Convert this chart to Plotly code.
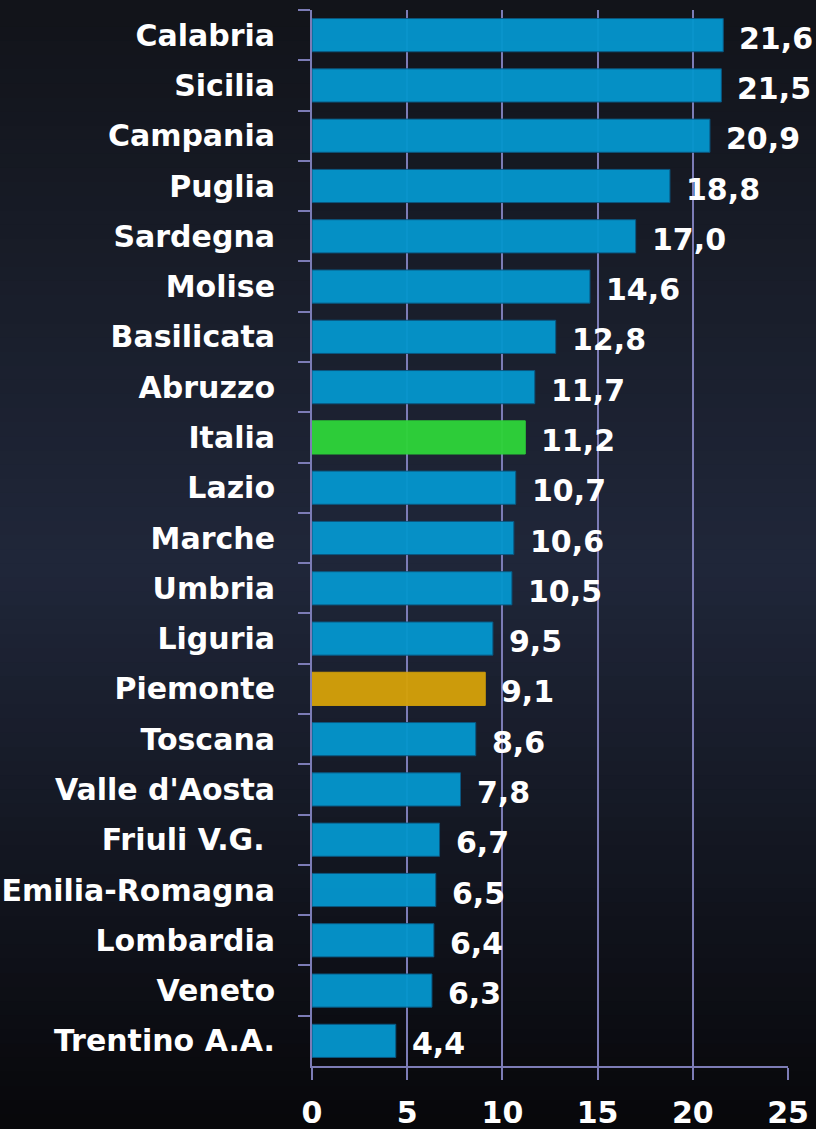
import plotly.graph_objs as go

# Regioni ordinate dal valore più alto al più basso
regioni = ["Calabria", "Sicilia", "Campania", "Puglia", "Sardegna", "Molise",
           "Basilicata", "Abruzzo", "Italia", "Lazio", "Marche", "Umbria",
           "Liguria", "Piemonte", "Toscana", "Valle d'Aosta", "Friuli V.G.\u00a0",
           "Emilia-Romagna", "Lombardia", "Veneto", "Trentino A.A."]
valori = [21.6, 21.5, 20.9, 18.8, 17.0, 14.6, 12.8, 11.7, 11.2, 10.7, 10.6,
          10.5, 9.5, 9.1, 8.6, 7.8, 6.7, 6.5, 6.4, 6.3, 4.4]
x_ticks = [0, 5, 10, 15, 20, 25]

BLU = '#0595cc'
colori = {"Italia": '#2ed33a', "Piemonte": '#d4a10a'}
GRIGLIA = '#7c7cb6'
FONT = dict(family='DejaVu Sans', size=30, color='white', weight='bold')


def sfondo_gradiente(n=80):
    # strisce orizzontali per simulare lo sfondo sfumato
    top, mid, bot = (18, 20, 26), (32, 39, 58), (8, 8, 11)
    shapes = []
    for i in range(n):
        t = i / (n - 1)
        if t < 0.5:
            a, b, f = top, mid, t / 0.5
        else:
            a, b, f = mid, bot, (t - 0.5) / 0.5
        c = tuple(int(a[k] + (b[k] - a[k]) * f) for k in range(3))
        shapes.append(dict(
            type='rect', xref='paper', yref='paper', layer='below',
            x0=-1, x1=2, y0=1.01 - i * (1.07 / n) + 0.001,
            y1=1.01 - (i + 1) * (1.07 / n) - 0.001,
            fillcolor='rgb(%d,%d,%d)' % c, line=dict(width=0)))
    return shapes


def plot_bar_chart():
    bar_colors = [colori.get(r, BLU) for r in regioni]
    line_colors = ['#0a5a85' if r not in colori else c
                   for r, c in zip(regioni, bar_colors)]

    data = [go.Bar(
        x=valori, y=regioni, orientation='h',
        width=0.66,
        marker=dict(color=bar_colors, line=dict(color=line_colors, width=1)),
        opacity=0.96,
        hoverinfo='x+y'
    )]

    annotations = [dict(
        x=v, y=r, xref='x', yref='y', xanchor='left', yanchor='middle',
        text=('%.1f' % v).replace('.', ','), showarrow=False,
        xshift=14, yshift=-3, font=FONT
    ) for r, v in zip(regioni, valori)]

    layout = go.Layout(
        width=816, height=1129,
        margin=dict(l=312, r=28, t=10, b=63),
        paper_bgcolor='#181c26',
        plot_bgcolor='rgba(0,0,0,0)',
        showlegend=False,
        font=FONT,
        xaxis=dict(
            range=[0, 25], tickvals=x_ticks, ticktext=[str(t) for t in x_ticks],
            showgrid=True, gridcolor=GRIGLIA, gridwidth=2,
            zeroline=False, showline=True, linecolor=GRIGLIA, linewidth=2,
            ticks='outside', ticklen=12, tickwidth=2, tickcolor=GRIGLIA,
            ticklabelstandoff=7, tickfont=FONT, automargin=False,
            fixedrange=True
        ),
        yaxis=dict(
            autorange='reversed', type='category',
            showgrid=False, zeroline=False,
            showline=True, linecolor=GRIGLIA, linewidth=2,
            ticks='outside', ticklen=12, tickwidth=2, tickcolor=GRIGLIA,
            tickson='boundaries', ticklabelstandoff=29,
            tickfont=FONT, automargin=False, fixedrange=True
        ),
        annotations=annotations,
        shapes=sfondo_gradiente()
    )
    fig = go.Figure(data=data, layout=layout)
    # niente margine della pagina, così il grafico riempie la finestra
    fig.write_html('out.html', config={'displayModeBar': False},
                   post_script="document.body.style.margin='0';"
                               "document.body.style.overflow='hidden';")


plot_bar_chart()
